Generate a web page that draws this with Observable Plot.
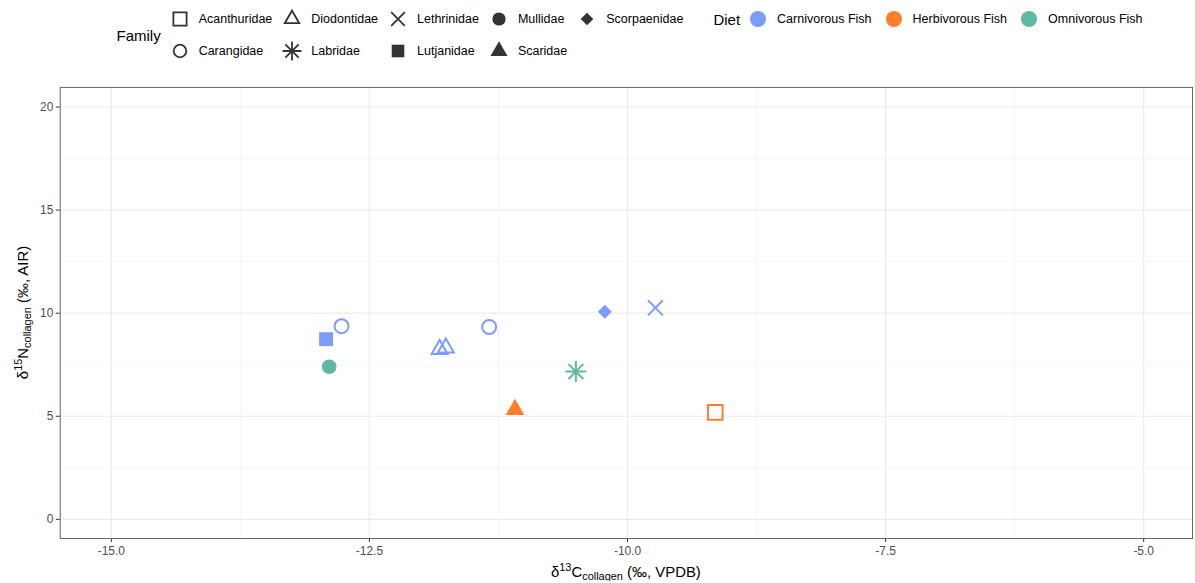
<!DOCTYPE html>
<html>
<head>
<meta charset="utf-8">
<script src="https://cdn.jsdelivr.net/npm/d3@7"></script>
<script src="https://cdn.jsdelivr.net/npm/@observablehq/plot@0.6"></script>
<style>
  body { margin: 0; background: #fff; overflow: hidden; font-family: "Liberation Sans", Arial, Helvetica, sans-serif; color: #000; }
  #legend { display: flex; justify-content: center; align-items: flex-start; margin-left: 67px; width: 1137px; height: 70px; box-sizing: border-box; padding-top: 3px; }
  .block { display: flex; align-items: center; }
  .ltitle { font-size: 15px; margin-right: 9px; }
  .grid { display: grid; grid-auto-flow: column; }
  .item { display: flex; align-items: center; height: 32px; padding-right: 10px; font-size: 12.5px; }
  .item svg { flex: none; overflow: visible; }
  .item span { margin-left: 9px; }
  #diet { margin-left: 20px; height: 32px; }
  #diet .ltitle { margin-right: 8px; }
  #chart svg { display: block; }
</style>
</head>
<body>
<div id="legend"></div>
<div id="chart"></div>
<script>
// Collagen isotope values per specimen
const family = ["Lutjanidae", "Carangidae", "Mullidae", "Diodontidae", "Diodontidae", "Carangidae",
                "Scorpaenidae", "Lethrinidae", "Labridae", "Scaridae", "Acanthuridae"];
const diet = ["Carnivorous Fish", "Carnivorous Fish", "Omnivorous Fish", "Carnivorous Fish", "Carnivorous Fish",
              "Carnivorous Fish", "Carnivorous Fish", "Carnivorous Fish", "Omnivorous Fish", "Herbivorous Fish",
              "Herbivorous Fish"];
const d13C = [-12.92, -12.77, -12.89, -11.82, -11.76, -11.34, -10.22, -9.73, -10.50, -11.09, -9.15];
const d15N = [8.74, 9.37, 7.40, 8.25, 8.32, 9.33, 10.07, 10.26, 7.17, 5.32, 5.19];

// Legend categories
const families = ["Acanthuridae", "Carangidae", "Diodontidae", "Labridae", "Lethrinidae",
                  "Lutjanidae", "Mullidae", "Scaridae", "Scorpaenidae"];
const diets = ["Carnivorous Fish", "Herbivorous Fish", "Omnivorous Fish"];
const dietColors = ["#7b9cff", "#ff7f2a", "#5fb8a2"];

// Axis ticks and grid
const xTicks = [-15, -12.5, -10, -7.5, -5];
const yTicks = [0, 5, 10, 15, 20];
const xMinor = [-13.75, -11.25, -8.75, -6.25];
const yMinor = [2.5, 7.5, 12.5, 17.5];

// Point shapes in the style of R's pch set; r is derived from the symbol area
const sym = (fn) => ({draw(ctx, size) { fn(ctx, Math.sqrt(size / Math.PI)); }});
const tri = (k) => (c, r) => {
  const s = k * r, h = s * Math.sqrt(3) / 2;
  c.moveTo(0, -2 * h / 3); c.lineTo(s / 2, h / 3); c.lineTo(-s / 2, h / 3); c.closePath();
};
const shapes = {
  Acanthuridae: sym((c, r) => { const h = 1.05 * r; c.rect(-h, -h, 2 * h, 2 * h); }),
  Carangidae: sym((c, r) => { c.moveTo(r, 0); c.arc(0, 0, r, 0, 2 * Math.PI); }),
  Diodontidae: sym(tri(2.3)),
  Labridae: sym((c, r) => {
    const a = 1.5 * r, d = a * Math.SQRT1_2;
    c.moveTo(-a, 0); c.lineTo(a, 0); c.moveTo(0, -a); c.lineTo(0, a);
    c.moveTo(-d, -d); c.lineTo(d, d); c.moveTo(-d, d); c.lineTo(d, -d);
  }),
  Lethrinidae: sym((c, r) => {
    const a = 1.08 * r;
    c.moveTo(-a, -a); c.lineTo(a, a); c.moveTo(-a, a); c.lineTo(a, -a);
  }),
  Lutjanidae: sym((c, r) => { c.rect(-r, -r, 2 * r, 2 * r); }),
  Mullidae: sym((c, r) => { const q = 1.05 * r; c.moveTo(q, 0); c.arc(0, 0, q, 0, 2 * Math.PI); }),
  Scaridae: sym(tri(2.7)),
  Scorpaenidae: sym((c, r) => { c.moveTo(0, -r); c.lineTo(r, 0); c.lineTo(0, r); c.lineTo(-r, 0); c.closePath(); })
};
const filled = new Set(["Lutjanidae", "Mullidae", "Scaridae", "Scorpaenidae"]);

const rows = family.map((f, i) => ({family: f, diet: diet[i], x: d13C[i], y: d15N[i]}));

// ---- Legend (HTML) ----
const legend = d3.select("#legend");
const famBlock = legend.append("div").attr("class", "block");
famBlock.append("div").attr("class", "ltitle").text("Family");
const famGrid = famBlock.append("div").attr("class", "grid").style("grid-template-rows", "32px 32px");
for (const f of families) {
  const item = famGrid.append("div").attr("class", "item");
  const s = item.append("svg").attr("width", 20).attr("height", 20).attr("viewBox", "-10 -10 20 20");
  s.append("path")
    .attr("d", d3.symbol(shapes[f], Math.PI * 6.3 * 6.3)())
    .attr("fill", filled.has(f) ? "#333" : "none")
    .attr("stroke", filled.has(f) ? "none" : "#333")
    .attr("stroke-width", 1.8);
  item.append("span").text(f);
}
const dietBlock = legend.append("div").attr("class", "block").attr("id", "diet");
dietBlock.append("div").attr("class", "ltitle").text("Diet");
const dietGrid = dietBlock.append("div").attr("class", "grid").style("grid-template-rows", "32px");
diets.forEach((d, i) => {
  const item = dietGrid.append("div").attr("class", "item").style("padding-right", "12px");
  const s = item.append("svg").attr("width", 20).attr("height", 20).attr("viewBox", "-10 -10 20 20");
  s.append("path").attr("d", d3.symbol(d3.symbolCircle, Math.PI * 8 * 8)()).attr("fill", dietColors[i]);
  item.append("span").text(d);
});

// ---- Chart ----
const W = 1200, H = 513, mL = 60, mR = 3, mT = 17, mB = 43;

const chart = Plot.plot({
  width: W,
  height: H,
  marginLeft: mL,
  marginRight: mR,
  marginTop: mT,
  marginBottom: mB,
  style: {fontFamily: "'Liberation Sans', Arial, Helvetica, sans-serif", background: "#fff"},
  x: {domain: [-15.495, -4.527]},
  y: {domain: [-0.93, 20.95]},
  color: {domain: diets, range: dietColors},
  symbol: {domain: families, range: families.map((f) => shapes[f])},
  marks: [
    Plot.ruleX(xMinor, {stroke: "#f2f2f2", strokeWidth: 0.8}),
    Plot.ruleY(yMinor, {stroke: "#f2f2f2", strokeWidth: 0.8}),
    Plot.ruleX(xTicks, {stroke: "#ebebeb", strokeWidth: 1.2}),
    Plot.ruleY(yTicks, {stroke: "#ebebeb", strokeWidth: 1.2}),
    Plot.axisX(xTicks, {
      tickSize: 4, tickPadding: 4, fontSize: 12, stroke: "#333", fill: "#4d4d4d",
      tickFormat: (d) => d.toFixed(1), label: null
    }),
    Plot.axisY(yTicks, {
      tickSize: 4, tickPadding: 3, fontSize: 12, stroke: "#333", fill: "#4d4d4d",
      tickFormat: (d) => String(d), label: null
    }),
    Plot.dot(rows.filter((d) => !filled.has(d.family)), {
      x: "x", y: "y", symbol: "family", r: 7, fill: "none", stroke: "diet", strokeWidth: 2
    }),
    Plot.dot(rows.filter((d) => filled.has(d.family)), {
      x: "x", y: "y", symbol: "family", r: 7, fill: "diet", stroke: "none"
    }),
    Plot.frame({stroke: "#666", strokeWidth: 1})
  ]
});
document.getElementById("chart").append(chart);

// Axis titles with isotope superscripts and subscripts
const svg = d3.select(chart);
function isoTitle(sel, num, el, unit) {
  sel.append("tspan").text("δ");
  sel.append("tspan").attr("font-size", 11).attr("dy", -6).text(num);
  sel.append("tspan").attr("dy", 6).text(el);
  sel.append("tspan").attr("font-size", 11).attr("dy", 3).text("collagen");
  sel.append("tspan").attr("dy", -3).text(" (" + unit + ")");
}
const xt = svg.append("text")
  .attr("x", mL + (W - mL - mR) / 2)
  .attr("y", H - 4)
  .attr("text-anchor", "middle")
  .attr("font-size", 15)
  .attr("fill", "#000");
isoTitle(xt, "13", "C", "‰, VPDB");
const yt = svg.append("text")
  .attr("transform", `translate(28,${mT + (H - mT - mB) / 2}) rotate(-90)`)
  .attr("text-anchor", "middle")
  .attr("font-size", 15)
  .attr("fill", "#000");
isoTitle(yt, "15", "N", "‰, AIR");
</script>
</body>
</html>
